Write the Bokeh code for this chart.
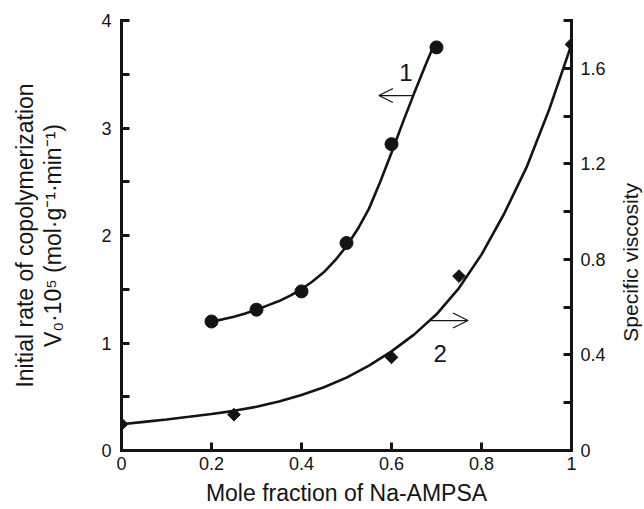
import numpy as np
from bokeh.plotting import figure
from bokeh.layouts import row
from bokeh.models import Range1d, LinearAxis, FixedTicker, Label, Arrow, OpenHead, NumeralTickFormatter
from bokeh.embed import file_html
from bokeh.resources import INLINE

# ---- data ----
# series 1: initial rate of copolymerization (left axis), circles
rate_x = [0.2, 0.3, 0.4, 0.5, 0.6, 0.7]
rate_y = [1.20, 1.31, 1.48, 1.93, 2.85, 3.75]
# fitted curve 1
rate_curve_x = [0.2, 0.225, 0.25, 0.275, 0.3, 0.325, 0.35, 0.375, 0.4, 0.425, 0.45,
                0.475, 0.5, 0.525, 0.55, 0.575, 0.6, 0.625, 0.65, 0.675, 0.695]
rate_curve_y = [1.20, 1.22, 1.245, 1.275, 1.31, 1.35, 1.39, 1.44, 1.50, 1.575, 1.66,
                1.77, 1.90, 2.06, 2.25, 2.50, 2.77, 3.05, 3.32, 3.58, 3.78]

# series 2: specific viscosity (right axis), diamonds
visc_x = [0.0, 0.25, 0.6, 0.75, 1.0]
visc_y = [0.11, 0.15, 0.39, 0.73, 1.70]
# fitted curve 2
visc_curve_x = [0.0, 0.05, 0.1, 0.15, 0.2, 0.25, 0.3, 0.35, 0.4, 0.45, 0.5,
                0.55, 0.6, 0.65, 0.7, 0.75, 0.8, 0.85, 0.9, 0.95, 1.0]
visc_curve_y = [0.110, 0.120, 0.130, 0.141, 0.153, 0.166, 0.183, 0.205, 0.232, 0.265, 0.305,
                0.355, 0.415, 0.485, 0.570, 0.680, 0.820, 0.990, 1.185, 1.425, 1.700]

x_ticks = [0, 0.2, 0.4, 0.6, 0.8, 1.0]
left_ticks = [0, 1, 2, 3, 4]
left_minor = [0.5, 1.5, 2.5, 3.5]
right_ticks = [0, 0.4, 0.8, 1.2, 1.6]
right_minor = [0.2, 0.6, 1.0, 1.4, 1.8]

x_title = "Mole fraction of Na-AMPSA"
left_title_1 = "Initial rate of copolymerization"
left_title_2 = "V\u2080\u00b710\u2075 (mol\u00b7g\u207b\u00b9\u00b7min\u207b\u00b9)"
right_title = "Specific viscosity"

FONT = "Liberation Sans"
INK = "#141414"

p = figure(width=608, height=509, output_backend="svg", toolbar_location=None,
           x_range=Range1d(0, 1), y_range=Range1d(0, 4),
           min_border_left=121, min_border_right=36, min_border_top=20, min_border_bottom=59)
p.extra_y_ranges = {"visc": Range1d(0, 1.8)}
p.outline_line_color = None
p.xgrid.visible = False
p.ygrid.visible = False

right_axis = LinearAxis(y_range_name="visc")
p.add_layout(right_axis, "right")

p.xaxis.ticker = FixedTicker(ticks=x_ticks, minor_ticks=[])
p.yaxis[0].ticker = FixedTicker(ticks=left_ticks, minor_ticks=left_minor)
right_axis.ticker = FixedTicker(ticks=right_ticks, minor_ticks=right_minor)

for ax in [p.xaxis[0], p.yaxis[0], right_axis]:
    ax.formatter = NumeralTickFormatter(format="0.[0]")
    ax.axis_line_width = 3
    ax.axis_line_color = INK
    ax.axis_line_cap = "square"
    ax.major_tick_line_width = 3
    ax.minor_tick_line_width = 3
    ax.major_tick_line_color = INK
    ax.minor_tick_line_color = INK
    ax.major_tick_in = 8
    ax.major_tick_out = 0
    ax.minor_tick_in = 8
    ax.minor_tick_out = 0
    ax.major_label_text_font = FONT
    ax.major_label_text_font_size = "18px"
    ax.major_label_text_color = INK
    ax.axis_label_text_font = FONT
    ax.axis_label_text_font_style = "normal"
    ax.axis_label_text_color = INK

p.xaxis[0].major_label_standoff = 6
p.yaxis[0].major_label_standoff = 10
right_axis.major_label_standoff = 9

# axis titles
p.xaxis[0].axis_label = x_title
p.xaxis[0].axis_label_text_font_size = "23px"
p.xaxis[0].axis_label_standoff = 7

p.yaxis[0].axis_label = left_title_1 + "\n" + left_title_2
p.yaxis[0].axis_label_text_font_size = "23px"
p.yaxis[0].axis_label_text_line_height = 1.1
p.yaxis[0].axis_label_standoff = 32

# curves
p.line(rate_curve_x, rate_curve_y, line_width=2.6, line_color=INK)
p.line(visc_curve_x, visc_curve_y, line_width=2.6, line_color=INK, y_range_name="visc")

# markers
p.scatter(rate_x, rate_y, marker="circle", size=13, fill_color=INK, line_color=INK)
p.scatter(visc_x, visc_y, marker="square", angle=np.pi / 4, size=9,
          fill_color=INK, line_color=INK, y_range_name="visc")

# annotations "1" and "2" with arrows
p.add_layout(Label(x=0.632, y=3.52, text="1", text_align="center", text_baseline="alphabetic",
                   text_font=FONT, text_font_size="24px", text_color=INK))
p.add_layout(Arrow(x_start=0.6475, y_start=3.302, x_end=0.572, y_end=3.302,
                   line_width=1.3, line_color=INK,
                   end=OpenHead(size=14, line_width=1.3, line_color=INK)))
p.add_layout(Label(x=0.7084, y=0.90, text="2", text_align="center", text_baseline="alphabetic",
                   text_font=FONT, text_font_size="24px", text_color=INK))
p.add_layout(Arrow(x_start=0.685, y_start=1.209, x_end=0.770, y_end=1.209,
                   line_width=1.3, line_color=INK,
                   end=OpenHead(size=15, line_width=1.3, line_color=INK)))

# narrow side figure carrying the right-hand title (reads bottom-to-top like the reference)
side = figure(width=36, height=509, output_backend="svg", toolbar_location=None,
              x_axis_location=None, y_axis_location=None,
              x_range=Range1d(0, 1), y_range=Range1d(0, 4),
              min_border_left=0, min_border_right=0, min_border_top=20, min_border_bottom=59)
side.outline_line_color = None
side.xgrid.visible = False
side.ygrid.visible = False
side.add_layout(Label(x=0.61, y=1.75, text=right_title, angle=np.pi / 2,
                      text_align="center", text_baseline="middle",
                      text_font=FONT, text_font_size="21px", text_color=INK))

open("out.html", "w").write(file_html(row(p, side), INLINE))
